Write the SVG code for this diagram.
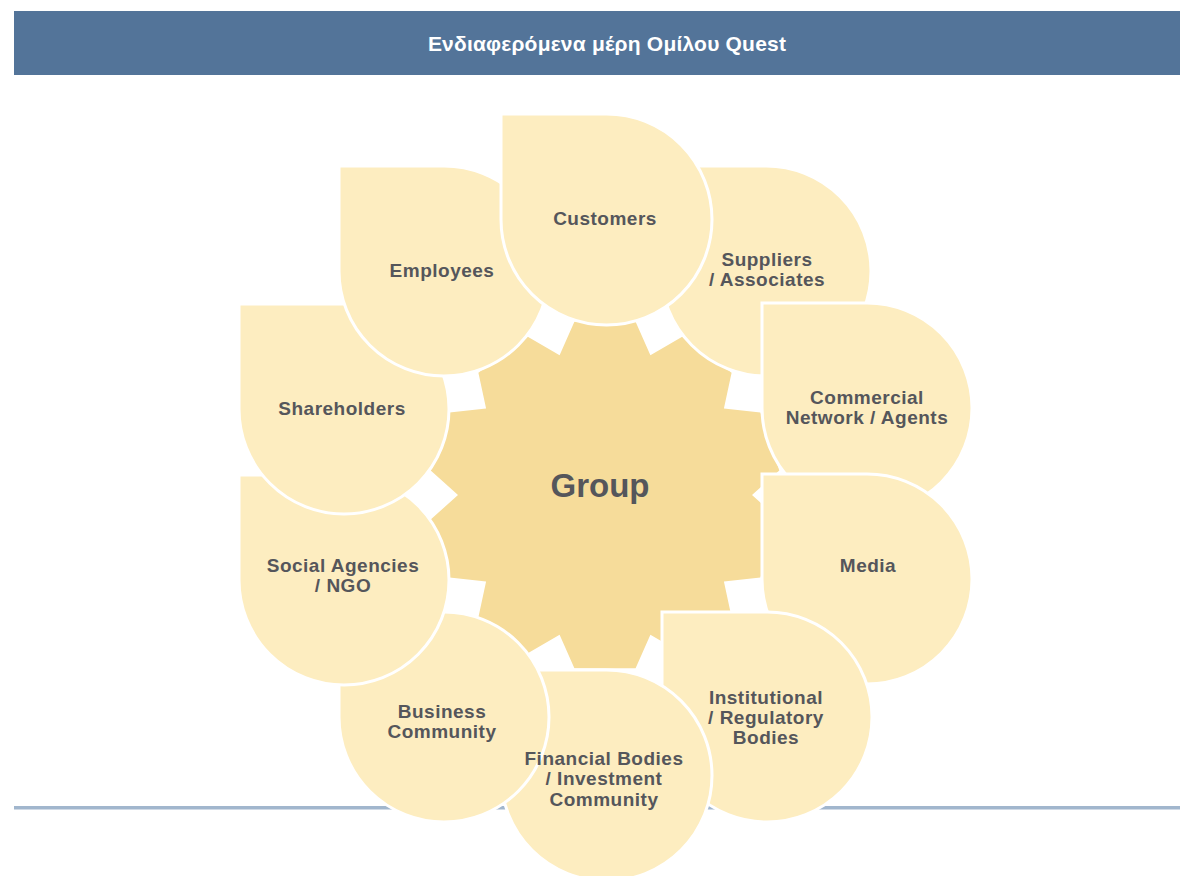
<svg xmlns="http://www.w3.org/2000/svg" width="1180" height="876" viewBox="0 0 1180 876">
<style>
.petal{fill:#FDEDC0;stroke:#FFFFFF;stroke-width:3}
.lbl{font-family:"Liberation Sans",Arial,sans-serif;font-weight:bold;font-size:19px;fill:#55565B;text-anchor:middle;letter-spacing:0.5px}
.title{font-family:"Liberation Sans",Arial,sans-serif;font-weight:bold;font-size:21px;fill:#FFFFFF;text-anchor:middle;letter-spacing:0.2px}
.center{font-family:"Liberation Sans",Arial,sans-serif;font-weight:bold;font-size:33px;fill:#55565B;text-anchor:middle}
</style>
<defs>
<path id="p210" d="M0 0 H105 A105 105 0 0 1 210 105 A105 105 0 0 1 105 210 A105 105 0 0 1 0 105 Z"/>
<path id="p211" d="M0 0 H105.5 A105.5 105.5 0 0 1 211 105.5 A105.5 105.5 0 0 1 105.5 211 A105.5 105.5 0 0 1 0 105.5 Z"/>
</defs>
<rect width="1180" height="876" fill="#FFFFFF"/>
<g id="header">
<rect x="14" y="11" width="1166" height="64" fill="#537499"/>
<text class="title" x="607" y="51">Ενδιαφερόμενα μέρη Ομίλου Quest</text>
</g>
<rect id="baseline" x="14" y="806" width="1166" height="3.5" fill="#A1B6CD"/>
<g id="connectors"></g>
<g id="group-center">
<polygon fill="#F6DC9A" points="574.4,321.7 635.6,321.7 650.4,355.2 682.2,336.8 731.6,372.7 723.9,408.6 760.4,412.4 779.3,470.5 752,495 779.3,519.5 760.4,577.6 723.9,581.4 731.6,617.3 682.2,653.2 650.4,634.8 635.6,668.3 574.4,668.3 559.6,634.8 527.8,653.2 478.4,617.3 486.1,581.4 449.6,577.6 430.7,519.5 458,495 430.7,470.5 449.6,412.4 486.1,408.6 478.4,372.7 527.8,336.8 559.6,355.2"/>
<text class="center" x="600" y="497">Group</text>
</g>
<g id="suppliers"><use href="#p210" class="petal" x="661" y="166"/></g>
<g id="commercial"><use href="#p210" class="petal" x="762" y="303"/></g>
<g id="media"><use href="#p210" class="petal" x="762" y="474"/></g>
<g id="institutional"><use href="#p210" class="petal" x="662" y="612"/></g>
<g id="financial"><use href="#p211" class="petal" x="501" y="670"/></g>
<g id="business"><use href="#p210" class="petal" x="339" y="612"/></g>
<g id="social"><use href="#p210" class="petal" x="239" y="475"/></g>
<g id="shareholders"><use href="#p210" class="petal" x="239" y="304"/></g>
<g id="employees"><use href="#p210" class="petal" x="339" y="166"/></g>
<g id="customers"><use href="#p211" class="petal" x="501" y="114"/></g>
<g id="labels">
<g id="suppliers-label">
<text class="lbl" x="767" y="266">Suppliers</text>
<text class="lbl" x="767" y="286">/ Associates</text>
</g>
<g id="commercial-label">
<text class="lbl" x="867" y="404">Commercial</text>
<text class="lbl" x="867" y="424">Network / Agents</text>
</g>
<g id="media-label"><text class="lbl" x="868" y="572">Media</text></g>
<g id="institutional-label">
<text class="lbl" x="766" y="704">Institutional</text>
<text class="lbl" x="766" y="724">/ Regulatory</text>
<text class="lbl" x="766" y="744">Bodies</text>
</g>
<g id="financial-label">
<text class="lbl" x="604" y="765">Financial Bodies</text>
<text class="lbl" x="604" y="785">/ Investment</text>
<text class="lbl" x="604" y="806">Community</text>
</g>
<g id="business-label">
<text class="lbl" x="442" y="718">Business</text>
<text class="lbl" x="442" y="738">Community</text>
</g>
<g id="social-label">
<text class="lbl" x="343" y="572">Social Agencies</text>
<text class="lbl" x="343" y="592">/ NGO</text>
</g>
<g id="shareholders-label"><text class="lbl" x="342" y="415">Shareholders</text></g>
<g id="employees-label"><text class="lbl" x="442" y="277">Employees</text></g>
<g id="customers-label"><text class="lbl" x="605" y="225">Customers</text></g>
</g>
</svg>
